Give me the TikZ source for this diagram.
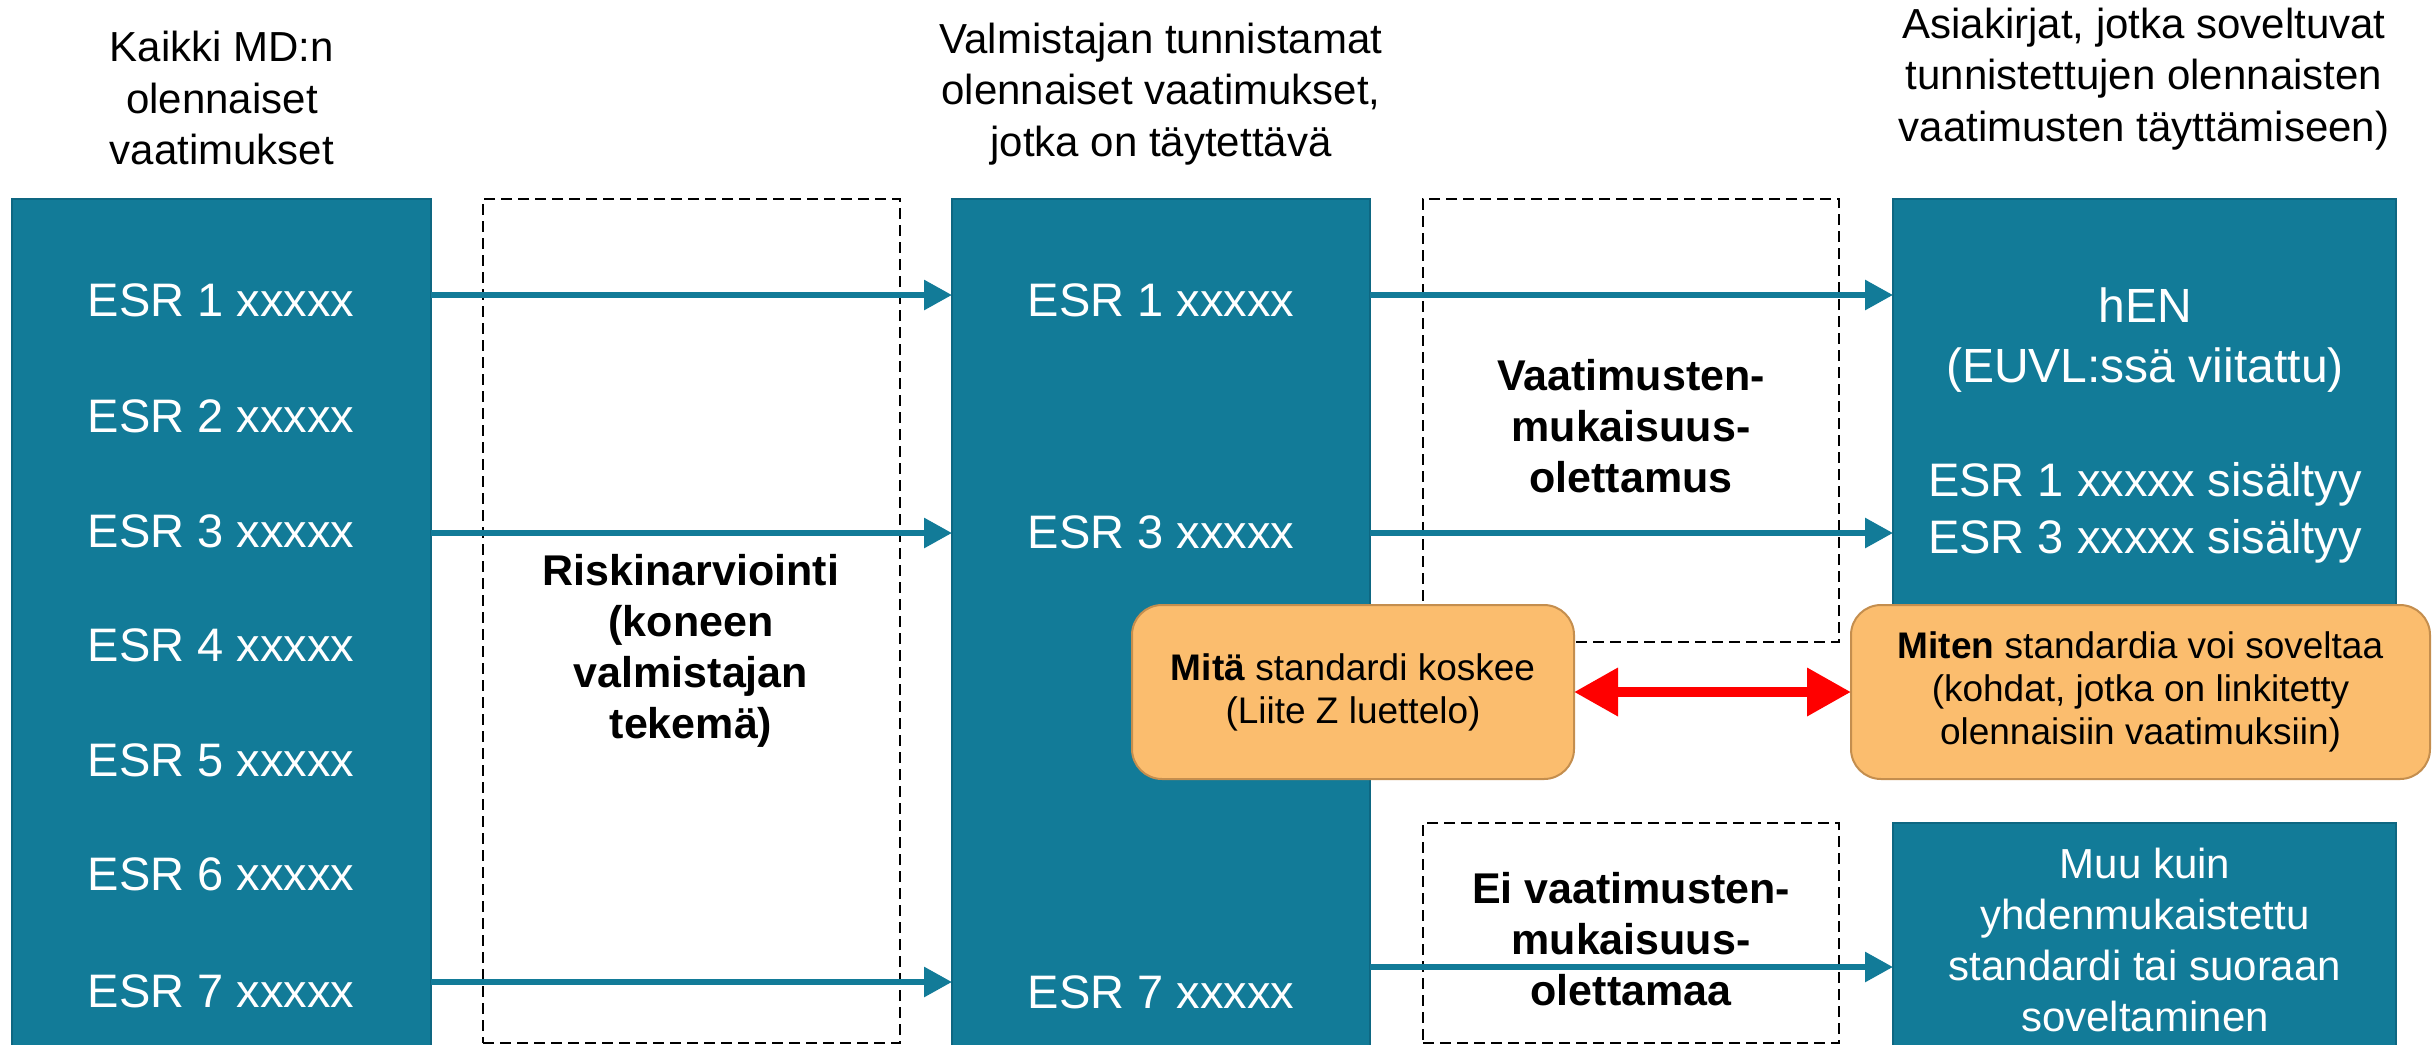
\documentclass[tikz,border=0pt]{standalone}
\usepackage{fontspec}
\setmainfont{Liberation Sans}
\usetikzlibrary{arrows.meta}
\definecolor{esrteal}{HTML}{127B98}
\definecolor{esredge}{HTML}{0E6782}
\definecolor{notefill}{HTML}{FBBD6E}
\definecolor{noteedge}{HTML}{C48E4E}
\begin{document}
\begin{tikzpicture}[x=0.5pt,y=-0.5pt,
  col/.style={anchor=north west, inner sep=0pt, outer sep=0pt, fill=esrteal, draw=esredge, line width=0.75pt},
  zone/.style={anchor=north west, inner sep=0pt, outer sep=0pt, draw=black, line width=1pt, dash pattern=on 5.5pt off 3pt},
  note/.style={anchor=north west, inner sep=0pt, outer sep=0pt, fill=notefill, draw=noteedge, line width=1pt, rounded corners=15pt,
    align=center, font=\fontsize{18.5}{21.5}\selectfont},
  head/.style={align=center, font=\fontsize{21}{25.75}\selectfont},
  esr/.style={text=white, align=center, font=\fontsize{23.5}{28.5}\selectfont},
  inner/.style={text=white, align=center, font=\fontsize{21}{25.5}\selectfont},
  zonelabel/.style={align=center, font=\bfseries\fontsize{21.5}{25.5}\selectfont},
  flow/.style={draw=esrteal, line width=3pt, -{Triangle[length=14pt,width=14.5pt]}},
  link/.style={draw=red, line width=5pt, {Triangle[length=22pt,width=23pt]}-{Triangle[length=22pt,width=23pt]}}
]
\useasboundingbox (0,0) rectangle (2433,1045);

% column headings
\node[head] (headall) at (222,98) {Kaikki MD:n\\olennaiset\\vaatimukset};
\node[head] (headchosen) at (1161,94) {Valmistajan tunnistamat\\olennaiset vaatimukset,\\jotka on täytettävä};
\node[head] (headdocs) at (2144,79) {Asiakirjat, jotka soveltuvat\\tunnistettujen olennaisten\\vaatimusten täyttämiseen)};

% dashed zones
\node[zone, minimum width=208.5pt, minimum height=422pt] (riskzone) at (483,199) {};
\node[zone, minimum width=208pt, minimum height=221.5pt] (presumed) at (1423,199) {};
\node[zone, minimum width=208pt, minimum height=110pt] (notpresumed) at (1423,823) {};

% teal columns
\node[col, minimum width=209.5pt, minimum height=424pt] (allbox) at (12,199) {};
\node[col, minimum width=209pt, minimum height=424pt] (chosenbox) at (952,199) {};
\node[col, minimum width=251.5pt, minimum height=250pt] (henbox) at (1893,199) {};
\node[col, minimum width=251.5pt, minimum height=112pt] (otherbox) at (1893,823) {};

% requirement lists
\foreach \i/\y in {1/300,2/416,3/531,4/645,5/760,6/874,7/991}
  \node[esr] (all\i) at (221,\y) {ESR \i\ xxxxx};
\node[esr] (chosen1) at (1161,300) {ESR 1 xxxxx};
\node[esr] (chosen3) at (1161,532) {ESR 3 xxxxx};
\node[esr] (chosen7) at (1161,992) {ESR 7 xxxxx};

\node[esr, font=\fontsize{24}{30}\selectfont] (hen) at (2145,340) {hEN\\(EUVL:ssä viitattu)};
\node[esr] (covered) at (2145,513) {ESR 1 xxxxx sisältyy\\ESR 3 xxxxx sisältyy};
\node[inner] (other) at (2145,940) {Muu kuin\\yhdenmukaistettu\\standardi tai suoraan\\soveltaminen};

% zone labels
\node[zonelabel] (risklabel) at (691,651) {Riskinarviointi\\(koneen\\valmistajan\\tekemä)};
\node[zonelabel] (presumedlabel) at (1631,426) {Vaatimusten-\\mukaisuus-\\olettamus};
\node[zonelabel] (notpresumedlabel) at (1631,939) {Ei vaatimusten-\\mukaisuus-\\olettamaa};

% arrow rows
\coordinate (row1) at (0,295);
\coordinate (row3) at (0,533);
\coordinate (row7) at (0,982);
\coordinate (row7b) at (0,967);

\draw[flow] (allbox.east |- row1) -- (chosenbox.west |- row1);
\draw[flow] (allbox.east |- row3) -- (chosenbox.west |- row3);
\draw[flow] (allbox.east |- row7) -- (chosenbox.west |- row7);
\draw[flow] (chosenbox.east |- row1) -- (henbox.west |- row1);
\draw[flow] (chosenbox.east |- row3) -- (henbox.west |- row3);
\draw[flow] (chosenbox.east |- row7b) -- (otherbox.west |- row7b);

% standard notes
\node[note, minimum width=221pt, minimum height=87pt] (whatnote) at (1132,605)
  {\textbf{Mitä} standardi koskee\\(Liite Z luettelo)};
\node[note, minimum width=289.5pt, minimum height=87pt] (hownote) at (1851,605)
  {\textbf{Miten} standardia voi soveltaa\\(kohdat, jotka on linkitetty\\olennaisiin vaatimuksiin)};

\draw[link] (whatnote.east) -- (hownote.west);
\end{tikzpicture}
\end{document}
